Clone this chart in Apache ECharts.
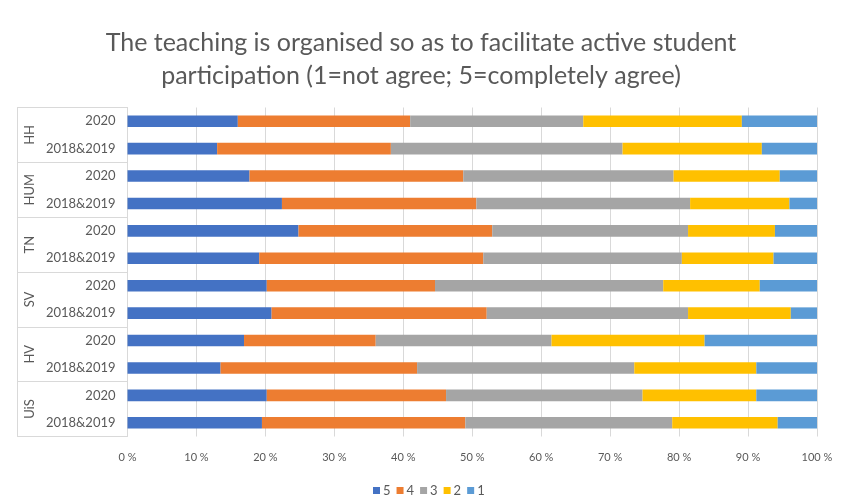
<!DOCTYPE html>
<html>
<head>
<meta charset="utf-8">
<script src="https://cdn.jsdelivr.net/npm/echarts@6/dist/echarts.min.js"></script>
<style>
    html, body { margin: 0; padding: 0; background: #fff; }
    #chart { width: 842px; height: 501px; }
</style>
</head>
<body>
<div id="chart"></div>
<script>
// categories (top to bottom)
const groups = ['HH', 'HUM', 'TN', 'SV', 'HV', 'UiS']
const years = ['2020', '2018&2019', '2020', '2018&2019', '2020', '2018&2019',
    '2020', '2018&2019', '2020', '2018&2019', '2020', '2018&2019']
// share of answers per level, in %
const level5 = [16.0, 13.0, 17.7, 22.4, 24.8, 19.1, 20.2, 20.9, 16.9, 13.5, 20.2, 19.5]
const level4 = [25.0, 25.2, 31.0, 28.2, 28.1, 32.5, 24.4, 31.2, 19.1, 28.5, 26.0, 29.5]
const level3 = [25.1, 33.6, 30.5, 31.0, 28.4, 28.8, 33.1, 29.2, 25.5, 31.5, 28.5, 30.0]
const level2 = [23.0, 20.2, 15.4, 14.4, 12.6, 13.3, 14.0, 14.9, 22.2, 17.7, 16.5, 15.3]
const level1 = [10.9, 8.0, 5.4, 4.0, 6.1, 6.3, 8.3, 3.8, 16.3, 8.8, 8.8, 5.7]
const levelNames = ['5', '4', '3', '2', '1']
const levelColors = ['#4472C4', '#ED7D31', '#A5A5A5', '#FFC000', '#5B9BD5']

const font = 'Lato'
const txtColor = '#595959'
const lineColor = '#d9d9d9'

const chart = echarts.init(document.getElementById('chart'))

const makeSeries = (name, data, i) => ({
    name: name,
    type: 'bar',
    stack: 'total',
    yAxisIndex: 0,
    barWidth: '42%',
    itemStyle: { color: levelColors[i] },
    data: data
})

chart.setOption({
    animation: false,
    textStyle: { fontFamily: font },
    title: {
        text: 'The teaching is organised so as to facilitate active student\nparticipation (1=not agree; 5=completely agree)',
        left: 'center',
        top: 21,
        padding: [5, 0, 5, 18],
        textStyle: {
            fontFamily: font,
            fontSize: 25,
            fontWeight: 'normal',
            color: txtColor,
            lineHeight: 33
        }
    },
    legend: {
        left: 368,
        top: 479,
        icon: 'rect',
        itemWidth: 7,
        itemHeight: 7,
        itemGap: 6,
        textStyle: { fontSize: 13, color: txtColor, fontFamily: font, padding: [0, 0, 0, -2] }
    },
    grid: {
        left: 127.5,
        right: 25,
        top: 107.5,
        bottom: 64.5
    },
    xAxis: {
        type: 'value',
        min: 0,
        max: 100,
        interval: 10,
        axisLine: { show: false },
        axisTick: { show: false },
        axisLabel: {
            formatter: '{value} %',
            color: txtColor,
            fontSize: 11,
            margin: 15
        },
        splitLine: { lineStyle: { color: lineColor } }
    },
    yAxis: [
        {
            type: 'category',
            data: years,
            inverse: true,
            axisLine: { show: true, lineStyle: { color: lineColor } },
            axisTick: { show: false },
            axisLabel: { color: txtColor, fontSize: 13, margin: 12 }
        },
        {
            type: 'category',
            data: groups,
            inverse: true,
            position: 'left',
            offset: 110,
            axisLine: { show: true, lineStyle: { color: lineColor } },
            axisTick: { show: true, inside: true, length: 110, lineStyle: { color: lineColor } },
            axisLabel: { inside: true, rotate: 90, color: txtColor, fontSize: 13, margin: 6 },
            splitLine: { show: false }
        }
    ],
    series: [
        makeSeries(levelNames[0], level5, 0),
        makeSeries(levelNames[1], level4, 1),
        makeSeries(levelNames[2], level3, 2),
        makeSeries(levelNames[3], level2, 3),
        makeSeries(levelNames[4], level1, 4)
    ]
})
</script>
</body>
</html>
